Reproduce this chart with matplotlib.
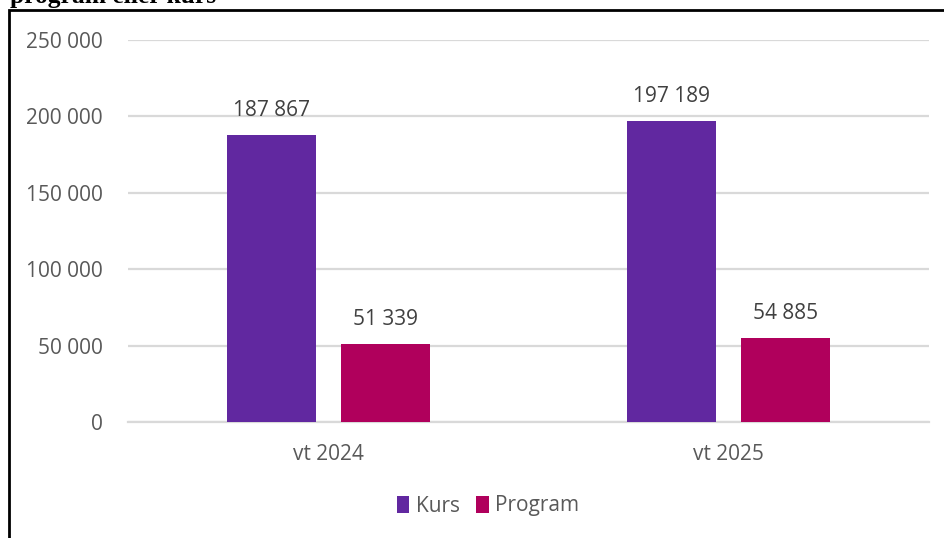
import numpy as np
import matplotlib.pyplot as plt
from matplotlib.patches import Rectangle

# data
terminer = ["vt 2024", "vt 2025"]
kurs = [187867, 197189]
program = [51339, 54885]
serier = ["Kurs", "Program"]
yticks = [0, 50000, 100000, 150000, 200000, 250000]

plt.rcParams['font.family'] = ['Open Sans', 'DejaVu Sans']

def fmt(v):
    return f"{v:,}".replace(",", " ")

fig = plt.figure(figsize=(9.44, 5.38), dpi=100)
ax = fig.add_axes([128/944, 1-422/538, (929-128)/944, (422-40)/538])

x = np.arange(len(terminer))
w = 0.222
off = 0.142
b1 = ax.bar(x - off, kurs, w, color="#6128A0", label=serier[0], zorder=3)
b2 = ax.bar(x + off, program, w, color="#B0005C", label=serier[1], zorder=3)

for bars, vals in [(b1, kurs), (b2, program)]:
    for r, v in zip(bars, vals):
        ax.annotate(fmt(v), (r.get_x() + r.get_width()/2, v), xytext=(0, 13.5),
                    textcoords="offset points", ha="center", va="baseline",
                    fontsize=15, color="#404040")

ax.set_xlim(-0.5, 1.5)
ax.set_ylim(0, 250000)
ax.set_yticks(yticks)
ax.set_yticklabels([fmt(t) for t in yticks])
ax.set_xticks(x)
ax.set_xticklabels(terminer)
ax.tick_params(axis="y", length=0, pad=18, labelsize=15, labelcolor="#595959")
ax.tick_params(axis="x", length=0, pad=16, labelsize=15, labelcolor="#595959")
ax.grid(axis="y", color="#d9d9d9", linewidth=1.6, zorder=0)
for s in ["top", "right", "left"]:
    ax.spines[s].set_visible(False)
ax.spines["bottom"].set_color("#d9d9d9")
ax.spines["bottom"].set_linewidth(1.6)

leg = fig.legend(loc="center", bbox_to_anchor=(488/944, 1-506/538), ncol=2, frameon=False,
                 fontsize=15, handlelength=0.6, handleheight=0.9, handletextpad=0.3,
                 columnspacing=0.8)
for t in leg.get_texts():
    t.set_color("#595959")

# frame and cut-off heading
fig.patches.append(Rectangle((8.5/944, -0.2), 1.2, 1.2 - 10/538, transform=fig.transFigure,
                             fill=False, edgecolor="black", linewidth=2))
fig.text(10/944, 1-3/538, "program eller kurs", family="Liberation Serif", fontweight="bold",
         fontsize=18.4, va="baseline", ha="left", color="black")

fig.savefig("out.png", dpi=100)
